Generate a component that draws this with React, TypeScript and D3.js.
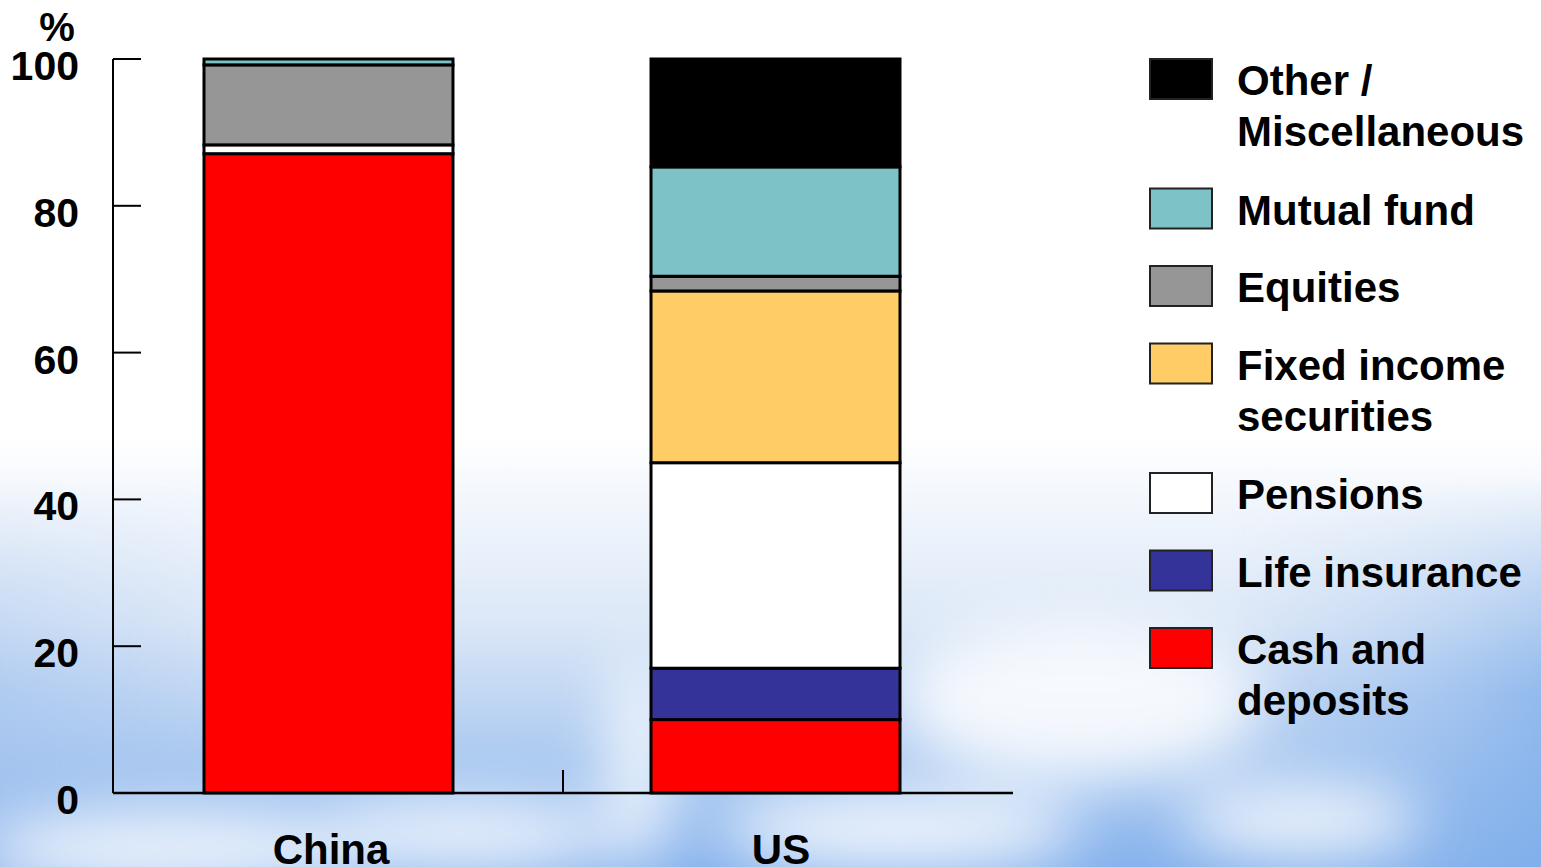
import * as d3 from 'd3';

const categories = ['China', 'US'];

// series listed bottom to top, values in % of household financial assets
const seriesNames = [
  'Cash and deposits',
  'Life insurance',
  'Pensions',
  'Fixed income securities',
  'Equities',
  'Mutual fund',
  'Other / Miscellaneous',
];
const chinaValues = [87.1, 0, 1.2, 0, 10.9, 0.8, 0];
const usValues = [10, 7, 28, 23.4, 2, 14.9, 14.7];
const seriesColors = ['#ff0000', '#333399', '#ffffff', '#ffcc66', '#969696', '#7cc2c7', '#000000'];

// legend, top to bottom, with line breaks as drawn
const legendLines = [
  ['Other /', 'Miscellaneous'],
  ['Mutual fund'],
  ['Equities'],
  ['Fixed income', 'securities'],
  ['Pensions'],
  ['Life insurance'],
  ['Cash and', 'deposits'],
];
const legendColors = ['#000000', '#7cc2c7', '#969696', '#ffcc66', '#ffffff', '#333399', '#ff0000'];

const yTicks = [0, 20, 40, 60, 80, 100];

const W = 1541;
const H = 867;
const font = '"Liberation Sans", Arial, sans-serif';

export default function App() {
  const y = d3.scaleLinear().domain([0, 100]).range([793, 59]);
  const x = d3.scaleBand<string>().domain(categories).range([204, 900]).paddingInner(0.443);
  const axisX = d3.scaleBand<string>().domain(categories).range([113, 1013]);

  // cumulative segments per category
  const segments = categories.map((cat, ci) => {
    const vals = ci === 0 ? chinaValues : usValues;
    const cum = d3.cumsum(vals);
    return vals.map((v, i) => ({ cat, i, y0: cum[i] - v, y1: cum[i] }));
  });

  let ly = 59;
  const legendPos = legendLines.map(lines => {
    const top = ly;
    ly += 77.5 + (lines.length - 1) * 52;
    return top;
  });

  return (
    <svg
      width={W}
      height={H}
      style={{ position: 'absolute', left: 0, top: 0, display: 'block' }}
      fontFamily={font}
      fontWeight="bold"
    >
      <defs>
        <linearGradient id="sky" x1="0" y1="0" x2="0" y2="1">
          <stop offset="0" stopColor="#ffffff" />
          <stop offset="0.5" stopColor="#ffffff" />
          <stop offset="0.72" stopColor="#dbe7f7" />
          <stop offset="0.88" stopColor="#a9c8f0" />
          <stop offset="1" stopColor="#86b2ec" />
        </linearGradient>
        <linearGradient id="sideBlue" x1="0" y1="0" x2="1" y2="0">
          <stop offset="0" stopColor="#9fc0ee" stopOpacity="0.5" />
          <stop offset="0.15" stopColor="#9fc0ee" stopOpacity="0" />
          <stop offset="0.8" stopColor="#9fc0ee" stopOpacity="0" />
          <stop offset="1" stopColor="#7eaeea" stopOpacity="0.7" />
        </linearGradient>
        <linearGradient id="fadeTop" x1="0" y1="0" x2="0" y2="1">
          <stop offset="0" stopColor="#fff" stopOpacity="0" />
          <stop offset="0.55" stopColor="#fff" stopOpacity="0" />
          <stop offset="0.8" stopColor="#fff" stopOpacity="1" />
        </linearGradient>
        <mask id="sideMask">
          <rect width={W} height={H} fill="url(#fadeTop)" />
        </mask>
        <filter id="blur" x="-50%" y="-50%" width="200%" height="200%">
          <feGaussianBlur stdDeviation="30" />
        </filter>
      </defs>

      <rect width={W} height={H} fill="url(#sky)" />
      <rect width={W} height={H} fill="url(#sideBlue)" mask="url(#sideMask)" />
      <g filter="url(#blur)" fill="#ffffff" opacity="0.85">
        <ellipse cx={180} cy={850} rx={200} ry={40} />
        <ellipse cx={460} cy={835} rx={160} ry={35} />
        <ellipse cx={640} cy={760} rx={30} ry={110} />
        <ellipse cx={1080} cy={700} rx={180} ry={80} />
        <ellipse cx={900} cy={830} rx={180} ry={40} />
        <ellipse cx={1300} cy={820} rx={120} ry={35} />
      </g>

      {/* bars */}
      {segments.flat().filter(s => s.y1 - s.y0 > 0).map(s => (
        <rect
          key={`${s.cat}-${s.i}`}
          x={x(s.cat)}
          y={y(s.y1)}
          width={x.bandwidth()}
          height={y(s.y0) - y(s.y1)}
          fill={seriesColors[s.i]}
          stroke="#000"
          strokeWidth={3}
        />
      ))}

      {/* axes */}
      <line x1={113} x2={113} y1={y(100)} y2={y(0)} stroke="#000" strokeWidth={2} />
      <line x1={113} x2={1013} y1={y(0)} y2={y(0)} stroke="#000" strokeWidth={2.5} />
      {yTicks.map(t => (
        <g key={t}>
          <line x1={113} x2={141} y1={y(t)} y2={y(t)} stroke="#000" strokeWidth={2} />
          <text x={79} y={y(t) + 21} textAnchor="end" fontSize={41}>{t}</text>
        </g>
      ))}
      <line x1={563} x2={563} y1={y(0) - 23} y2={y(0)} stroke="#000" strokeWidth={2} />
      <text x={57} y={41} textAnchor="middle" fontSize={40}>%</text>

      {categories.map(c => (
        <text key={c} x={axisX(c)! + axisX.bandwidth() / 2 - 7} y={864} textAnchor="middle" fontSize={42}>
          {c}
        </text>
      ))}

      {/* legend */}
      {legendLines.map((lines, i) => (
        <g key={i} transform={`translate(1150,${legendPos[i]})`}>
          <rect x={0} y={0} width={62} height={40} fill={legendColors[i]} stroke="#222" strokeWidth={2} />
          {lines.map((ln, j) => (
            <text key={j} x={87} y={36 + j * 51} fontSize={42}>{ln}</text>
          ))}
        </g>
      ))}
    </svg>
  );
}
